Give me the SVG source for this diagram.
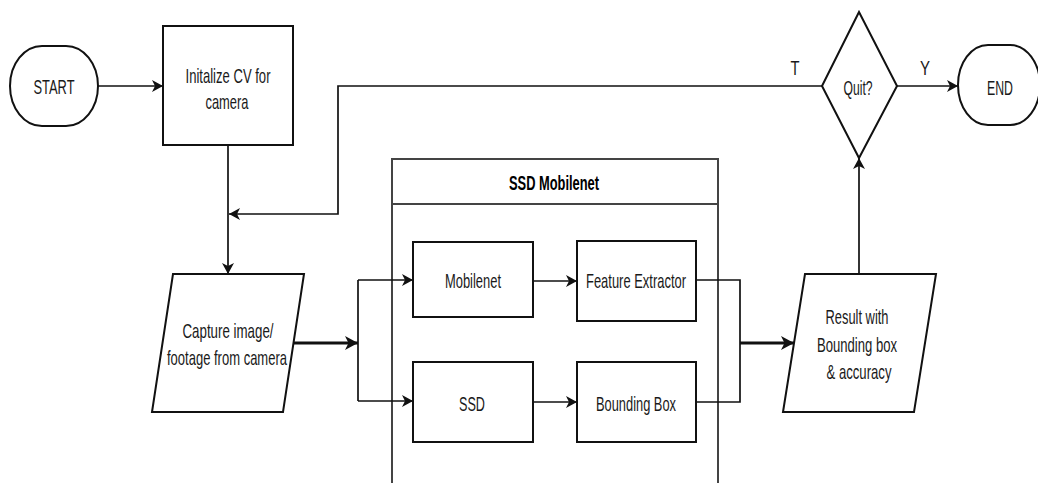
<svg xmlns="http://www.w3.org/2000/svg" width="1038" height="483" viewBox="0 0 1038 483">
<defs>
<style>
.n{fill:#fff;stroke:#111;stroke-width:2}
.c{fill:none;stroke:#444;stroke-width:2}
.e{fill:none;stroke:#111;stroke-width:1.7}
.k{fill:none;stroke:#111;stroke-width:3}
.t{font-family:"Liberation Sans",Arial,sans-serif;font-size:21px;fill:#1a1a1a;text-anchor:middle}
.b{font-weight:bold;fill:#000}
</style>
<marker id="a" markerUnits="userSpaceOnUse" markerWidth="13" markerHeight="12" refX="11" refY="6" orient="auto" viewBox="0 0 13 12">
<path d="M0,0 L11,6 L0,12 L3,6 Z" fill="#111"/>
</marker>
<marker id="ak" markerUnits="userSpaceOnUse" markerWidth="15" markerHeight="14" refX="13" refY="7" orient="auto" viewBox="0 0 15 14">
<path d="M0,0 L13,7 L0,14 L3.5,7 Z" fill="#111"/>
</marker>
</defs>
<rect width="1038" height="483" fill="#fff"/>
<g id="container">
<rect class="c" x="392" y="159" width="326" height="340"/>
<line class="c" x1="392" y1="204" x2="718" y2="204"/>
<text class="t b" x="554" y="190" textLength="90" lengthAdjust="spacingAndGlyphs">SSD Mobilenet</text>
</g>
<g id="connectors">
<path class="e" d="M98,86 H163" marker-end="url(#a)"/>
<path class="e" d="M228,145 V274" marker-end="url(#a)"/>
<path class="e" d="M822,86 H338 V214 H229" marker-end="url(#a)"/>
<path class="k" d="M294,343 H358" marker-end="url(#ak)"/>
<path class="e" d="M358,280 V401"/>
<path class="e" d="M358,280 H413" marker-end="url(#a)"/>
<path class="e" d="M358,401 H413" marker-end="url(#a)"/>
<path class="e" d="M533,281 H577" marker-end="url(#a)"/>
<path class="e" d="M533,402 H577" marker-end="url(#a)"/>
<path class="e" d="M696,280 H740 V402 H696"/>
<path class="k" d="M740,343 H794" marker-end="url(#ak)"/>
<path class="e" d="M859,274 V158" marker-end="url(#a)"/>
<path class="e" d="M897,86 H958" marker-end="url(#a)"/>
<text class="t" x="795" y="75" textLength="9" lengthAdjust="spacingAndGlyphs">T</text>
<text class="t" x="925" y="75" textLength="10" lengthAdjust="spacingAndGlyphs">Y</text>
</g>
<g id="start">
<rect class="n" x="10" y="46" width="88" height="80" rx="32" ry="40"/>
<text class="t" x="54" y="94" textLength="41" lengthAdjust="spacingAndGlyphs">START</text>
</g>
<g id="init">
<rect class="n" x="163" y="26" width="130" height="119"/>
<text class="t" x="228" y="83" textLength="85" lengthAdjust="spacingAndGlyphs">Initalize CV for</text>
<text class="t" x="227" y="109" textLength="43" lengthAdjust="spacingAndGlyphs">camera</text>
</g>
<g id="capture">
<polygon class="n" points="173,274 304,274 283,412 152,412"/>
<text class="t" x="228" y="338" textLength="91" lengthAdjust="spacingAndGlyphs">Capture image/</text>
<text class="t" x="227" y="365" textLength="120" lengthAdjust="spacingAndGlyphs">footage from camera</text>
</g>
<g id="mobilenet">
<rect class="n" x="413" y="242" width="120" height="75"/>
<text class="t" x="473" y="288" textLength="56" lengthAdjust="spacingAndGlyphs">Mobilenet</text>
</g>
<g id="feature">
<rect class="n" x="577" y="241" width="119" height="80"/>
<text class="t" x="636" y="288" textLength="100" lengthAdjust="spacingAndGlyphs">Feature Extractor</text>
</g>
<g id="ssd">
<rect class="n" x="413" y="362" width="120" height="80"/>
<text class="t" x="472" y="411" textLength="26" lengthAdjust="spacingAndGlyphs">SSD</text>
</g>
<g id="bbox">
<rect class="n" x="577" y="362" width="119" height="80"/>
<text class="t" x="636" y="411" textLength="80" lengthAdjust="spacingAndGlyphs">Bounding Box</text>
</g>
<g id="result">
<polygon class="n" points="805,274 936,274 914,412 783,412"/>
<text class="t" x="857" y="324" textLength="63" lengthAdjust="spacingAndGlyphs">Result with</text>
<text class="t" x="857" y="352" textLength="80" lengthAdjust="spacingAndGlyphs">Bounding box</text>
<text class="t" x="859" y="379" textLength="65" lengthAdjust="spacingAndGlyphs">&amp; accuracy</text>
</g>
<g id="quit">
<polygon class="n" points="859,12 897,86 859,158 822,86"/>
<text class="t" x="858" y="95" textLength="29" lengthAdjust="spacingAndGlyphs">Quit?</text>
</g>
<g id="end">
<rect class="n" x="958" y="45" width="82" height="80" rx="30" ry="40"/>
<text class="t" x="1000" y="95" textLength="26" lengthAdjust="spacingAndGlyphs">END</text>
</g>
</svg>
